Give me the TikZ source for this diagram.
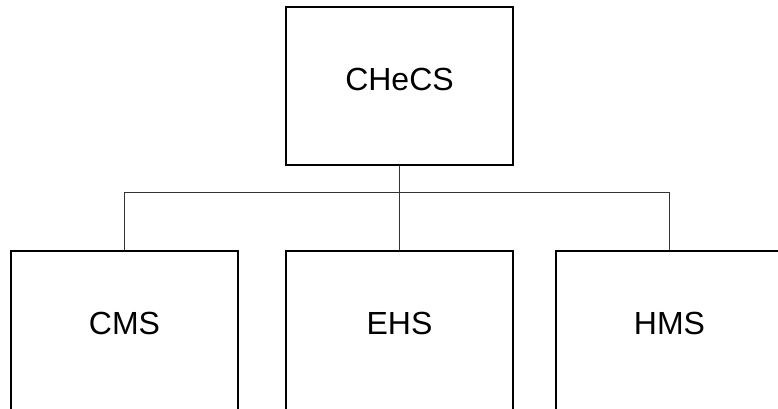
\documentclass[tikz,border=0pt]{standalone}
\usepackage{fontspec}
\setmainfont{Liberation Sans}
\tikzset{
  orgbox/.style={draw=black, line width=2pt, fill=white, minimum width=227pt, minimum height=158pt,
    inner sep=0pt, text depth=14pt, font=\fontsize{32}{38}\selectfont},
  lowbox/.style={orgbox, minimum height=164pt, text depth=19pt},
  conn/.style={draw=black!80, line width=1pt}
}
\begin{document}
\begin{tikzpicture}[x=1pt,y=-1pt]
\useasboundingbox (0,0) rectangle (778,409);
\clip (0,0) rectangle (778,409);
\node[orgbox] (top) at (399.5,86) {CHeCS};
\node[lowbox] (cms) at (124.5,333) {CMS};
\node[lowbox] (ehs) at (399.5,333) {EHS};
\node[lowbox] (hms) at (669.5,333) {HMS};
\coordinate (bus) at (399.5,192);
\draw[conn] (top.south) -- (bus);
\draw[conn] (bus) -| (cms.north);
\draw[conn] (bus) -| (hms.north);
\draw[conn] (bus) -- (ehs.north);
\end{tikzpicture}
\end{document}
